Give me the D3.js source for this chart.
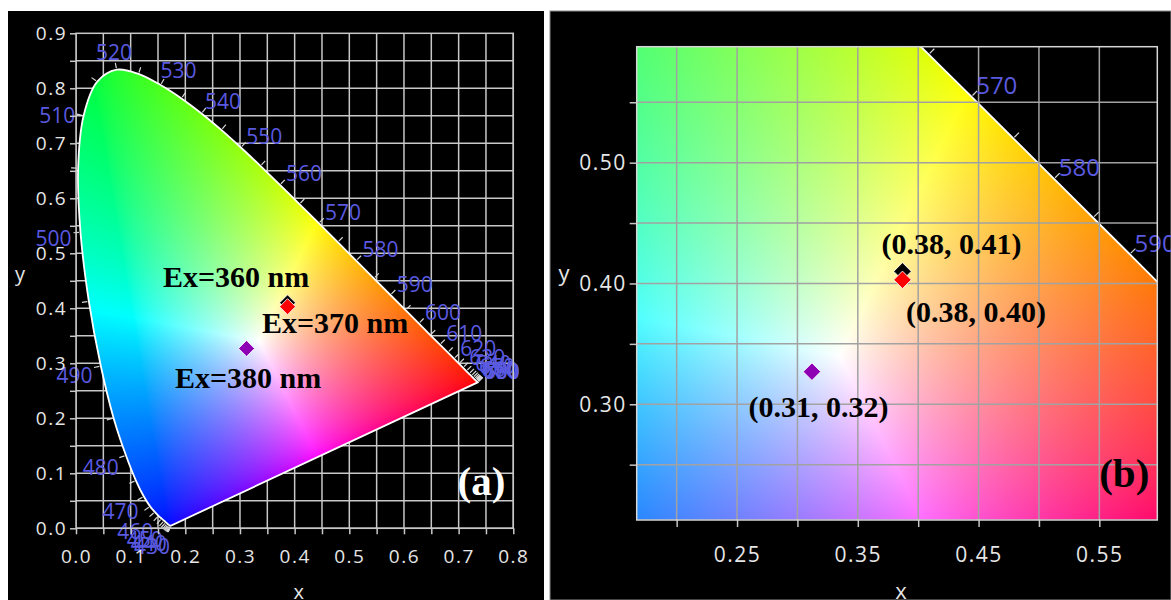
<!DOCTYPE html>
<html>
<head>
<meta charset="utf-8">
<script src="https://cdn.jsdelivr.net/npm/d3@7"></script>
<style>
  body { margin: 0; background: #fff; }
  svg { display: block; }
</style>
</head>
<body>
<svg id="chart" width="1171" height="600"></svg>
<script>
// CIE 1931 2-degree spectral locus, 5 nm steps
const wavelengths = [380,385,390,395,400,405,410,415,420,425,430,435,440,445,450,455,460,465,470,475,
  480,485,490,495,500,505,510,515,520,525,530,535,540,545,550,555,560,565,570,575,580,585,590,595,
  600,605,610,615,620,625,630,635,640,645,650,655,660,665,670,675,680,685,690,695,700];
const locusX = [0.1741,0.1740,0.1738,0.1736,0.1733,0.1730,0.1726,0.1721,0.1714,0.1703,0.1689,0.1669,
  0.1644,0.1611,0.1566,0.1510,0.1440,0.1355,0.1241,0.1096,0.0913,0.0687,0.0454,0.0235,0.0082,0.0039,
  0.0139,0.0389,0.0743,0.1142,0.1547,0.1929,0.2296,0.2658,0.3016,0.3373,0.3731,0.4087,0.4441,0.4788,
  0.5125,0.5448,0.5752,0.6029,0.6270,0.6482,0.6658,0.6801,0.6915,0.7006,0.7079,0.7140,0.7190,0.7230,
  0.7260,0.7283,0.7300,0.7311,0.7320,0.7327,0.7334,0.7340,0.7344,0.7346,0.7347];
const locusY = [0.0050,0.0050,0.0049,0.0049,0.0048,0.0048,0.0048,0.0048,0.0051,0.0058,0.0069,0.0086,
  0.0109,0.0138,0.0177,0.0227,0.0297,0.0399,0.0578,0.0868,0.1327,0.2007,0.2950,0.4127,0.5384,0.6548,
  0.7502,0.8120,0.8338,0.8262,0.8059,0.7816,0.7543,0.7243,0.6923,0.6589,0.6245,0.5896,0.5547,0.5202,
  0.4866,0.4544,0.4242,0.3965,0.3725,0.3514,0.3340,0.3197,0.3083,0.2993,0.2920,0.2859,0.2809,0.2770,
  0.2740,0.2717,0.2700,0.2689,0.2680,0.2673,0.2666,0.2660,0.2656,0.2654,0.2653];
const labelledWl = [430,440,450,460,470,480,490,500,510,520,530,540,550,560,570,580,590,600,
  610,620,630,640,650,660,670,680,690,700];

// measured colour coordinates
const sampleNames = ['Ex=360 nm', 'Ex=370 nm', 'Ex=380 nm'];
const sampleX = [0.387, 0.387, 0.312];
const sampleY = [0.410, 0.403, 0.327];
const sampleCoordText = ['(0.38, 0.41)', '(0.38, 0.40)', '(0.31, 0.32)'];
const sampleColors = ['#000000', '#ff0000', '#8e00b4'];

// axis labels
const aXLabels = [0, 0.1, 0.2, 0.3, 0.4, 0.5, 0.6, 0.7, 0.8];
const aYLabels = [0, 0.1, 0.2, 0.3, 0.4, 0.5, 0.6, 0.7, 0.8, 0.9];
const bXLabels = [0.25, 0.35, 0.45, 0.55];
const bYLabels = [0.30, 0.40, 0.50];

const svg = d3.select('#chart');
const locusPts = wavelengths.map((w, i) => [locusX[i], locusY[i]]);

// shading of the horseshoe: weighted barycentric blend between three corners,
// balanced so that the white spot sits at shadeWhite
const triR = [0.735, 0.265], triG = [0.0, 1.0], triB = [0.17, 0.0];
const shadeWhite = [0.335, 0.34];
function bary(x, y) {
  const ax = triR[0] - triB[0], ay = triR[1] - triB[1];
  const bx = triG[0] - triB[0], by = triG[1] - triB[1];
  const px = x - triB[0], py = y - triB[1];
  const det = ax * by - ay * bx;
  const r = (px * by - py * bx) / det;
  const g = (ax * py - ay * px) / det;
  return [r, g, 1 - r - g];
}
const gains = bary(shadeWhite[0], shadeWhite[1]).map(v => 1 / v);
function chromaRGB(x, y) {
  const w = bary(x, y).map((v, i) => Math.max(v, 0) * gains[i]);
  const m = Math.max(w[0], w[1], w[2]) || 1;
  return w.map(v => Math.round(255 * Math.pow(v / m, 0.7)));
}

function chromaImage(sx, sy) {
  const [x0, x1] = sx.range(), [y1, y0] = sy.range();
  const w = Math.round(x1 - x0), h = Math.round(y1 - y0);
  const cv = document.createElement('canvas');
  cv.width = w; cv.height = h;
  const ctx = cv.getContext('2d');
  const img = ctx.createImageData(w, h);
  for (let j = 0; j < h; j++) {
    const cy = sy.invert(y0 + j + 0.5);
    for (let i = 0; i < w; i++) {
      const c = chromaRGB(sx.invert(x0 + i + 0.5), cy);
      const k = (j * w + i) * 4;
      img.data[k] = c[0]; img.data[k + 1] = c[1]; img.data[k + 2] = c[2]; img.data[k + 3] = 255;
    }
  }
  ctx.putImageData(img, 0, 0);
  return { href: cv.toDataURL(), x: x0, y: y0, w, h };
}

function outwardNormal(pts, i, minLen) {
  let j = 1, a, b;
  do {
    a = pts[Math.max(i - j, 0)];
    b = pts[Math.min(i + j, pts.length - 1)];
    j++;
  } while (Math.hypot(b[0] - a[0], b[1] - a[1]) < minLen && j < 25);
  const dx = b[0] - a[0], dy = b[1] - a[1], len = Math.hypot(dx, dy) || 1;
  return [dy / len, -dx / len];
}

function drawPanel(p) {
  const g = svg.append('g');
  const [x0, x1] = p.x.range(), [yb, yt] = p.y.range();

  g.append('rect').attr('x', p.bg[0]).attr('y', p.bg[1]).attr('width', p.bg[2]).attr('height', p.bg[3])
    .attr('fill', '#000').attr('stroke', p.bgStroke).attr('stroke-width', 1);

  const defs = g.append('defs');
  const line = d3.line().x(d => p.x(d[0])).y(d => p.y(d[1])).curve(d3.curveCatmullRom.alpha(0.5));
  const locusD = line(locusPts) + 'Z';
  defs.append('clipPath').attr('id', p.id + '-locus').append('path').attr('d', locusD);
  defs.append('clipPath').attr('id', p.id + '-plot').append('rect')
    .attr('x', x0).attr('y', yt).attr('width', x1 - x0).attr('height', yb - yt);

  const gridX = p.x.ticks(p.nx), gridY = p.y.ticks(p.ny);
  const drawGrid = (layer) => {
    const gg = layer.append('g').attr('stroke', p.gridColor).attr('stroke-width', 1.5);
    gg.selectAll('.gx').data(gridX).join('line').attr('class', 'gx')
      .attr('x1', d => p.x(d)).attr('x2', d => p.x(d)).attr('y1', yt).attr('y2', yb);
    gg.selectAll('.gy').data(gridY).join('line').attr('class', 'gy')
      .attr('x1', x0).attr('x2', x1).attr('y1', d => p.y(d)).attr('y2', d => p.y(d));
  };

  const plot = g.append('g').attr('clip-path', `url(#${p.id}-plot)`);
  if (!p.gridOnTop) drawGrid(plot);

  const im = chromaImage(p.x, p.y);
  plot.append('g').attr('clip-path', `url(#${p.id}-locus)`)
    .append('image').attr('href', im.href).attr('x', im.x).attr('y', im.y)
    .attr('width', im.w).attr('height', im.h).attr('preserveAspectRatio', 'none');
  plot.append('path').attr('d', locusD).attr('fill', 'none').attr('stroke', '#fff').attr('stroke-width', 1.8);

  if (p.gridOnTop) drawGrid(plot);

  // wavelength ticks on the locus
  const pix = locusPts.map(d => [p.x(d[0]), p.y(d[1])]);
  const marks = wavelengths.map((w, i) => ({ w, pt: pix[i], n: outwardNormal(pix, i, 4) }));
  const tickLayer = p.clipLocusMarks ? plot : g;
  tickLayer.append('g').attr('stroke', '#d8d8d8').attr('stroke-width', 1.2)
    .selectAll('line').data(marks).join('line')
    .attr('x1', d => d.pt[0] + d.n[0] * 1.5).attr('y1', d => d.pt[1] + d.n[1] * 1.5)
    .attr('x2', d => d.pt[0] + d.n[0] * p.tickLen).attr('y2', d => d.pt[1] + d.n[1] * p.tickLen);

  const inside = d => d.pt[0] >= x0 && d.pt[0] <= x1 && d.pt[1] >= yt && d.pt[1] <= yb;
  g.append('g').attr('font-family', 'Open Sans, sans-serif').attr('font-size', p.wlFont)
    .attr('fill', '#5a5ae0').attr('text-anchor', 'middle')
    .selectAll('text').data(marks.filter(d => labelledWl.includes(d.w) && inside(d))).join('text')
    .attr('x', d => d.pt[0] + (d.n[0] * 30 + 3) * p.s)
    .attr('y', d => d.pt[1] + (d.n[1] * 22 + 5) * p.s)
    .attr('dy', '0.35em')
    .text(d => d.w);

  // axes
  const isLabel = (arr) => (d) => arr.some(v => Math.abs(v - d) < 1e-9);
  const ax = g.append('g').attr('transform', `translate(0,${yb})`)
    .call(d3.axisBottom(p.x).tickValues(gridX).tickSize(p.axTick).tickPadding(p.padX)
      .tickFormat(d => isLabel(p.xLabels)(d) ? d3.format(p.fmt)(d) : ''));
  const ay = g.append('g').attr('transform', `translate(${x0},0)`)
    .call(d3.axisLeft(p.y).tickValues(gridY).tickSize(p.axTick).tickPadding(p.padY)
      .tickFormat(d => isLabel(p.yLabels)(d) ? d3.format(p.fmt)(d) : ''));
  [ax, ay].forEach(a => {
    a.select('.domain').remove();
    a.attr('font-family', 'Open Sans, sans-serif').attr('font-size', p.axFont);
    a.selectAll('line').attr('stroke', p.axTickColor).attr('stroke-width', 1.5);
    a.selectAll('text').attr('fill', '#e6e6e6').style('letter-spacing', '1.5px');
  });

  g.append('rect').attr('x', x0).attr('y', yt).attr('width', x1 - x0).attr('height', yb - yt)
    .attr('fill', 'none').attr('stroke', p.borderColor).attr('stroke-width', 1.5);

  g.append('text').attr('x', p.yTitle[0]).attr('y', p.yTitle[1]).attr('text-anchor', 'middle')
    .attr('font-family', 'Open Sans, sans-serif').attr('font-size', p.axFont + 1).attr('fill', '#e6e6e6').text('y');
  g.append('text').attr('x', (x0 + x1) / 2 + 4).attr('y', 599).attr('text-anchor', 'middle')
    .attr('font-family', 'Open Sans, sans-serif').attr('font-size', p.axFont + 1).attr('fill', '#e6e6e6').text('x');

  // samples
  const sym = d3.symbol(d3.symbolSquare, p.markerArea);
  g.append('g').selectAll('path').data(sampleX).join('path')
    .attr('d', sym)
    .attr('transform', (d, i) => `translate(${p.x(sampleX[i])},${p.y(sampleY[i])}) rotate(45)`)
    .attr('fill', (d, i) => sampleColors[i])
    .attr('stroke', '#fff').attr('stroke-width', 0.8);

  g.append('g').attr('font-family', 'Liberation Serif, Times New Roman, serif').attr('font-weight', 'bold')
    .attr('font-size', p.noteFont).attr('fill', '#000').attr('text-anchor', 'middle')
    .selectAll('text').data(p.notes).join('text')
    .attr('x', (d, i) => p.x(sampleX[i]) + p.noteOffsets[i][0])
    .attr('y', (d, i) => p.y(sampleY[i]) + p.noteOffsets[i][1])
    .text(d => d);

  g.append('text').attr('x', x1 - 8).attr('y', yb - 33).attr('text-anchor', 'end')
    .attr('font-family', 'Liberation Serif, Times New Roman, serif').attr('font-weight', 'bold')
    .attr('font-size', 41).attr('fill', p.tagColor).text(p.tag);
}

drawPanel({
  id: 'a', tag: '(a)', tagColor: '#fff',
  bg: [8, 11, 536, 589], bgStroke: 'none',
  x: d3.scaleLinear([0, 0.8], [76, 513.3]),
  y: d3.scaleLinear([0, 0.9], [528.3, 33.3]),
  nx: 16, ny: 18, gridColor: '#c8c8c8', borderColor: '#c8c8c8', gridOnTop: false,
  axTickColor: '#c8c8c8', axTick: 6, padX: 15, padY: 3, axFont: 19, fmt: '.1f',
  xLabels: aXLabels, yLabels: aYLabels, yTitle: [20, 281],
  tickLen: 7, wlFont: 21, s: 1, clipLocusMarks: false,
  markerArea: 128, noteFont: 30,
  notes: sampleNames,
  noteOffsets: [[-51.5, -16], [47.5, 26.5], [1.5, 39.5]]
});

drawPanel({
  id: 'b', tag: '(b)', tagColor: '#000',
  bg: [550, 11, 621, 589], bgStroke: '#8a8a8a',
  x: d3.scaleLinear([0.1669, 0.598], [636.7, 1157.3]),
  y: d3.scaleLinear([0.2042, 0.596], [520, 46.7]),
  nx: 9, ny: 8, gridColor: '#a2a2a2', borderColor: '#d6d6d6', gridOnTop: true,
  axTickColor: '#c4c4c4', axTick: 7, padX: 20, padY: 3, axFont: 21, fmt: '.2f',
  xLabels: bXLabels, yLabels: bYLabels, yTitle: [564, 281],
  tickLen: 8, wlFont: 24, s: 1.05, clipLocusMarks: true,
  markerArea: 153, noteFont: 30,
  notes: sampleCoordText,
  noteOffsets: [[49, -17.4], [73.6, 42.2], [6.6, 45.3]]
});
</script>
</body>
</html>
